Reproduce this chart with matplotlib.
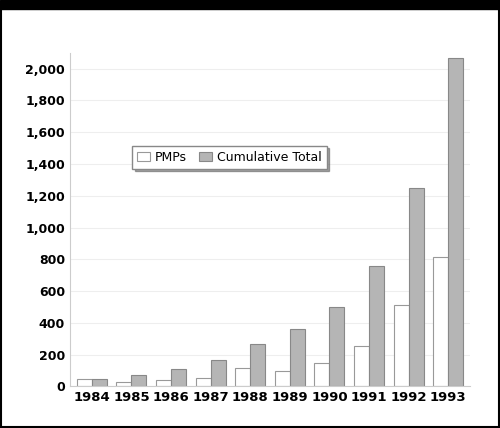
import matplotlib
matplotlib.use("Agg")
import matplotlib.pyplot as plt
import numpy as np
from matplotlib.patches import Rectangle

years = ["1984","1985","1986","1987","1988","1989","1990","1991","1992","1993"]
pmps = [45, 30, 40, 55, 115, 95, 145, 255, 510, 815]
cumulative = [45, 75, 110, 165, 270, 360, 500, 755, 1250, 2065]
yticks = [0, 200, 400, 600, 800, 1000, 1200, 1400, 1600, 1800, 2000]
ylabels = ["0","200","400","600","800","1,000","1,200","1,400","1,600","1,800","2,000"]

fig = plt.figure(figsize=(5.0, 4.28), dpi=100)
fig.patches.append(Rectangle((0, 0.98), 1, 0.02, transform=fig.transFigure, color="black", zorder=10))
fig.patches.append(Rectangle((0.002, 0.002), 0.996, 0.98, transform=fig.transFigure, fill=False,
                             edgecolor="black", lw=1.5, zorder=10))
ax = fig.add_axes([0.14, 0.097, 0.80, 0.78])
x = np.arange(len(years))
w = 0.38
ax.bar(x - w/2, pmps, w, color="white", edgecolor="#999999", lw=0.8, label="PMPs")
ax.bar(x + w/2, cumulative, w, color="#b5b5b5", edgecolor="#888888", lw=0.8, label="Cumulative Total")
ax.set_xlim(-0.55, 9.55)
ax.set_ylim(0, 2100)
ax.set_yticks(yticks)
ax.set_yticklabels(ylabels, fontsize=9, fontweight="bold")
ax.set_xticks(x)
ax.set_xticklabels(years, fontsize=9.5, fontweight="bold")
ax.tick_params(length=0)
for s in ["top", "right"]:
    ax.spines[s].set_visible(False)
for s in ["left", "bottom"]:
    ax.spines[s].set_color("#cccccc")
ax.grid(axis="y", color="#eeeeee", lw=0.8)
ax.set_axisbelow(True)
leg = ax.legend(loc="upper left", bbox_to_anchor=(0.14, 0.74), ncol=2, fontsize=9,
                fancybox=False, shadow=True, edgecolor="#888888", handlelength=1.0,
                handletextpad=0.4, columnspacing=1.0)
fig.savefig("out.png", dpi=100)
